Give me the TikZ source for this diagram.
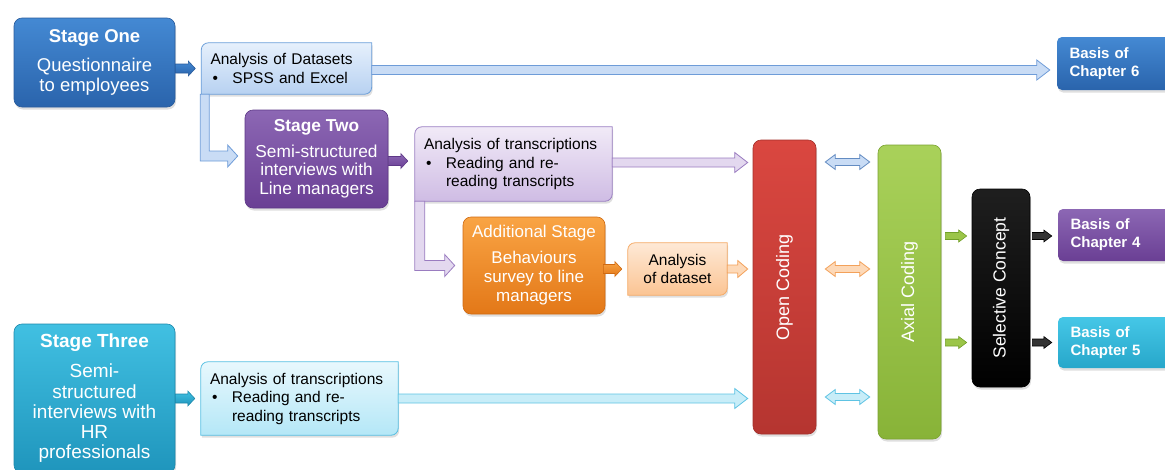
\documentclass[tikz,border=0pt]{standalone}
\usepackage{fontspec}
\setmainfont{Liberation Sans}
\usetikzlibrary{calc,shadows,backgrounds}

% box colours (top / bottom of the vertical shading, border)
\definecolor{oneT}{HTML}{4489D3}\definecolor{oneB}{HTML}{2A64AC}\definecolor{oneD}{HTML}{2A5C9C}
\definecolor{twoT}{HTML}{8C67B4}\definecolor{twoB}{HTML}{6A3F94}\definecolor{twoD}{HTML}{5E3887}
\definecolor{thrT}{HTML}{41C0E2}\definecolor{thrB}{HTML}{1F95BC}\definecolor{thrD}{HTML}{1D88AB}
\definecolor{addT}{HTML}{F9A444}\definecolor{addB}{HTML}{E37818}\definecolor{addD}{HTML}{CF6A12}
\definecolor{lbT}{HTML}{E6F0FC}\definecolor{lbB}{HTML}{B7D1F1}\definecolor{lbD}{HTML}{6A9ED9}
\definecolor{lpT}{HTML}{F1EAF7}\definecolor{lpB}{HTML}{CFBCE4}\definecolor{lpD}{HTML}{9A7FC2}
\definecolor{lcT}{HTML}{E8F8FD}\definecolor{lcB}{HTML}{B4E7F7}\definecolor{lcD}{HTML}{55BFE2}
\definecolor{loT}{HTML}{FEE9D6}\definecolor{loB}{HTML}{FBC493}\definecolor{loD}{HTML}{F5A964}
\definecolor{ocT}{HTML}{DA4740}\definecolor{ocB}{HTML}{B53530}\definecolor{ocD}{HTML}{A3302B}
\definecolor{acT}{HTML}{A9D15A}\definecolor{acB}{HTML}{88B338}\definecolor{acD}{HTML}{7AA230}
\definecolor{c5T}{HTML}{45C7E7}\definecolor{c5B}{HTML}{27A7CA}
% arrow colours
\definecolor{arBlueF}{HTML}{C9DCF5}\definecolor{arBlueD}{HTML}{6E9CD8}
\definecolor{arPurF}{HTML}{E3D8EF}\definecolor{arPurD}{HTML}{9A7CC0}
\definecolor{arCyanF}{HTML}{C8EDF8}\definecolor{arCyanD}{HTML}{5EC3E3}
\definecolor{arPeachF}{HTML}{FDD9B8}\definecolor{arPeachD}{HTML}{F3A15A}
\definecolor{arGreenF}{HTML}{9BC548}\definecolor{arGreenD}{HTML}{72A028}

\newcommand\itembul{\makebox[22pt][l]{\hspace{2pt}\textbullet}}
\newcommand\itemind{\hspace*{22pt}}

% background of a box with rounded top-left and bottom-right corners
\newcommand\diagbox[2]{%
  \path[#2] ([yshift=-7pt]#1.north west) arc[start angle=180,end angle=90,radius=7pt]
    -- (#1.north east) -- ([yshift=7pt]#1.south east) arc[start angle=0,end angle=-90,radius=7pt]
    -- (#1.south west) -- cycle;}

\tikzset{
  bshaft/.initial=4.5pt, bhead/.initial=10pt, blen/.initial=13pt,
  blockarrow/.style={to path={let \p1=(\tikztostart), \p2=(\tikztotarget) in
     (\x1,{\y1+\pgfkeysvalueof{/tikz/bshaft}})
     -- ({\x2-\pgfkeysvalueof{/tikz/blen}},{\y1+\pgfkeysvalueof{/tikz/bshaft}})
     -- ({\x2-\pgfkeysvalueof{/tikz/blen}},{\y1+\pgfkeysvalueof{/tikz/bhead}})
     -- (\x2,\y1)
     -- ({\x2-\pgfkeysvalueof{/tikz/blen}},{\y1-\pgfkeysvalueof{/tikz/bhead}})
     -- ({\x2-\pgfkeysvalueof{/tikz/blen}},{\y1-\pgfkeysvalueof{/tikz/bshaft}})
     -- (\x1,{\y1-\pgfkeysvalueof{/tikz/bshaft}}) -- cycle}},
  dblarrow/.style={to path={let \p1=(\tikztostart), \p2=(\tikztotarget) in
     (\x1,\y1)
     -- ({\x1+\pgfkeysvalueof{/tikz/blen}},{\y1+\pgfkeysvalueof{/tikz/bhead}})
     -- ({\x1+\pgfkeysvalueof{/tikz/blen}},{\y1+\pgfkeysvalueof{/tikz/bshaft}})
     -- ({\x2-\pgfkeysvalueof{/tikz/blen}},{\y1+\pgfkeysvalueof{/tikz/bshaft}})
     -- ({\x2-\pgfkeysvalueof{/tikz/blen}},{\y1+\pgfkeysvalueof{/tikz/bhead}})
     -- (\x2,\y1)
     -- ({\x2-\pgfkeysvalueof{/tikz/blen}},{\y1-\pgfkeysvalueof{/tikz/bhead}})
     -- ({\x2-\pgfkeysvalueof{/tikz/blen}},{\y1-\pgfkeysvalueof{/tikz/bshaft}})
     -- ({\x1+\pgfkeysvalueof{/tikz/blen}},{\y1-\pgfkeysvalueof{/tikz/bshaft}})
     -- ({\x1+\pgfkeysvalueof{/tikz/blen}},{\y1-\pgfkeysvalueof{/tikz/bhead}})
     -- cycle}},
  small/.style={bshaft=4.5pt, bhead=7.5pt, blen=7pt, line width=0.6pt, blockarrow},
  long/.style={bshaft=4.5pt, bhead=10pt, blen=13pt, line width=0.8pt, blockarrow},
  twoway/.style={bshaft=3.5pt, bhead=7.5pt, blen=10pt, line width=0.8pt, dblarrow},
  tiny/.style={bshaft=3.5pt, bhead=6pt, blen=8pt, line width=0.6pt, blockarrow},
  softshadow/.style={drop shadow={shadow xshift=1pt, shadow yshift=-2.5pt, opacity=.25}},
  stagebox/.style={rounded corners=8pt, text=white, align=center, inner sep=0pt,
     line width=0.6pt, softshadow, font=\fontsize{18.5}{20}\selectfont},
  anbox/.style={inner xsep=9pt, inner ysep=0pt, align=left, text=black,
     font=\fontsize{15.5}{18.5}\selectfont},
  basisbox/.style={rounded corners=5pt, text=white, align=left, inner xsep=12.5pt,
     inner ysep=0pt, text width=98pt, softshadow, font=\bfseries\fontsize{15}{18}\selectfont},
  codebox/.style={rounded corners=8pt, inner sep=0pt, line width=0.6pt, softshadow},
  rotlabel/.style={rotate=90, text=white, inner sep=0pt, font=\fontsize{18}{20}\selectfont},
}

\begin{document}
\begin{tikzpicture}[x=1pt,y=-1pt]
\useasboundingbox (0,0) rectangle (1165,469);
\clip (0,0) rectangle (1165,469);

% ---- stage boxes
\node[stagebox, top color=oneT, bottom color=oneB, draw=oneD,
      minimum width=161pt, minimum height=89pt] (s1) at (94.5,62.5)
  {\textbf{Stage One}\\[9pt]Questionnaire\\to employees};
\node[stagebox, top color=twoT, bottom color=twoB, draw=twoD,
      minimum width=143pt, minimum height=98pt, font=\fontsize{17.3}{18.7}\selectfont] (s2) at (316.5,159)
  {\textbf{Stage Two}\\[6.5pt]Semi-structured\\interviews with\\Line managers};
\node[stagebox, top color=addT, bottom color=addB, draw=addD,
      minimum width=142pt, minimum height=97pt, font=\fontsize{17}{19}\selectfont] (ad) at (534,265.5)
  {Additional Stage\\[7pt]Behaviours\\survey to line\\managers};
\node[stagebox, top color=thrT, bottom color=thrB, draw=thrD,
      minimum width=161pt, minimum height=149pt, font=\fontsize{19}{20.3}\selectfont] (s3) at (94.5,398.5)
  {\textbf{Stage Three}\\[9.5pt]Semi-\\structured\\interviews with\\HR\\professionals};

% ---- analysis boxes (text here, backgrounds on the background layer)
\node[anbox, text width=152pt, minimum width=170pt, minimum height=51pt] (ds) at (286.5,68.5)
  {Analysis of Datasets\\\itembul SPSS and Excel};
\node[anbox, text width=179pt, minimum width=197pt, minimum height=74pt] (tp) at (513.5,164)
  {Analysis of transcriptions\\\itembul Reading and re-\\\itemind reading transcripts};
\node[anbox, text width=179pt, minimum width=197pt, minimum height=73pt] (tc) at (299.5,398.5)
  {Analysis of transcriptions\\\itembul Reading and re-\\\itemind reading transcripts};
\node[anbox, align=center, minimum width=99pt, minimum height=52pt] (dd) at (677.5,269)
  {Analysis\\of dataset};

\begin{scope}[on background layer]
  \diagbox{ds}{top color=lbT, bottom color=lbB, draw=lbD, line width=0.8pt, softshadow}
  \diagbox{tp}{top color=lpT, bottom color=lpB, draw=lpD, line width=0.8pt, softshadow}
  \diagbox{tc}{top color=lcT, bottom color=lcB, draw=lcD, line width=0.8pt, softshadow}
  \diagbox{dd}{top color=loT, bottom color=loB, draw=loD, line width=0.8pt, softshadow}
\end{scope}

% ---- coding columns
\node[codebox, top color=ocT, bottom color=ocB, draw=ocD,
      minimum width=63pt, minimum height=294pt] (oc) at (784.5,287) {};
\node[rotlabel] (ocl) at (oc) {Open Coding};
\node[codebox, top color=acT, bottom color=acB, draw=acD,
      minimum width=63pt, minimum height=294pt] (ac) at (909.5,292) {};
\node[rotlabel] (acl) at (ac) {Axial Coding};
\node[codebox, top color=black!88, bottom color=black, draw=black,
      minimum width=58pt, minimum height=198pt] (sc) at (1001,288) {};
\node[rotlabel, font=\fontsize{17.5}{20}\selectfont] (scl) at (sc) {Selective Concept};

% ---- chapter boxes
\node[basisbox, top color=oneT, bottom color=oneB, minimum width=123pt, minimum height=53pt]
  (c6) at (1118.5,63.5) {Basis of\\Chapter 6};
\node[basisbox, top color=twoT, bottom color=twoB, minimum width=121pt, minimum height=52pt]
  (c4) at (1119.5,235) {Basis of\\Chapter 4};
\node[basisbox, top color=c5T, bottom color=c5B, minimum width=121pt, minimum height=51pt]
  (c5) at (1119.5,342.5) {Basis of\\Chapter 5};

% ---- short solid arrows out of the stage boxes
\draw[small, top color=oneT, bottom color=oneB, draw=oneD]
  (s1.east |- ds.west) to ($(ds.west)+(-6,0)$);
\draw[small, top color=twoT, bottom color=twoB, draw=twoD]
  ($(s2.east)+(0,2)$) to ($(tp.west |- s2.east)+(-7,2)$);
\draw[small, top color=addT, bottom color=addB, draw=addD]
  ($(ad.east |- dd.west)+(-2,0)$) to ($(dd.west)+(-6,0)$);
\draw[small, top color=thrT, bottom color=thrB, draw=thrD]
  (s3.east |- tc.west) to ($(tc.west)+(-6,0)$);

% ---- long light arrows
\draw[long, fill=arBlueF, draw=arBlueD] ($(ds.east)+(0,1.5)$) to ($(c6.west |- ds.east)+(-7,1.5)$);
\draw[long, fill=arPurF, draw=arPurD] ($(tp.east)+(0,-1.5)$) to ($(oc.west |- tp.east)+(-5,-1.5)$);
\draw[long, bshaft=4pt, bhead=8.5pt, blen=10pt, fill=arPeachF, draw=arPeachD]
  (dd.east) to ($(oc.west |- dd.east)+(-5,0)$);
\draw[long, fill=arCyanF, draw=arCyanD] (tc.east) to ($(oc.west |- tc.east)+(-5,0)$);

% ---- bent arrows down to the next stage
\path[fill=arBlueF, draw=arBlueD, line width=0.8pt]
  let \p1=(ds.south west), \p2=($(s2.west)+(-7,-3)$) in
  ({\x1-1pt},\y1) -- ({\x1-1pt},{\y2-5pt}) -- ({\x2-10pt},{\y2-5pt}) -- ({\x2-10pt},{\y2-11pt})
  -- (\x2,\y2) -- ({\x2-10pt},{\y2+11pt}) -- ({\x2-10pt},{\y2+5pt}) -- ({\x1+8pt},{\y2+5pt})
  -- ({\x1+8pt},\y1) -- cycle;
\path[fill=arPurF, draw=arPurD, line width=0.8pt]
  let \p1=(tp.south west), \p2=($(ad.west)+(-8,0)$) in
  (\x1,\y1) -- (\x1,{\y2-5pt}) -- ({\x2-10pt},{\y2-5pt}) -- ({\x2-10pt},{\y2-11pt})
  -- (\x2,\y2) -- ({\x2-10pt},{\y2+11pt}) -- ({\x2-10pt},{\y2+5pt}) -- ({\x1+10pt},{\y2+5pt})
  -- ({\x1+10pt},\y1) -- cycle;

% ---- two-way arrows between open and axial coding
\draw[twoway, fill=arBlueF, draw=arBlueD!90!black]
  ($(oc.east |- tp.east)+(9,-2)$) to ($(ac.west |- tp.east)+(-8,-2)$);
\draw[twoway, fill=arPeachF, draw=arPeachD]
  ($(oc.east |- dd.east)+(9,0)$) to ($(ac.west |- dd.east)+(-8,0)$);
\draw[twoway, fill=arCyanF, draw=arCyanD]
  ($(oc.east |- tc.east)+(9,-1.5)$) to ($(ac.west |- tc.east)+(-8,-1.5)$);

% ---- into and out of the selective concept
\draw[tiny, fill=arGreenF, draw=arGreenD] ($(ac.east |- c4.west)+(4,1)$) to ($(sc.west |- c4.west)+(-5,1)$);
\draw[tiny, fill=arGreenF, draw=arGreenD] ($(ac.east |- c5.west)+(4,0)$) to ($(sc.west |- c5.west)+(-5,0)$);
\draw[tiny, fill=black!80, draw=black] ($(sc.east |- c4.west)+(2,1)$) to ($(c4.west)+(-6,1)$);
\draw[tiny, fill=black!80, draw=black] ($(sc.east |- c5.west)+(2,0)$) to ($(c5.west)+(-6,0)$);
\end{tikzpicture}
\end{document}
